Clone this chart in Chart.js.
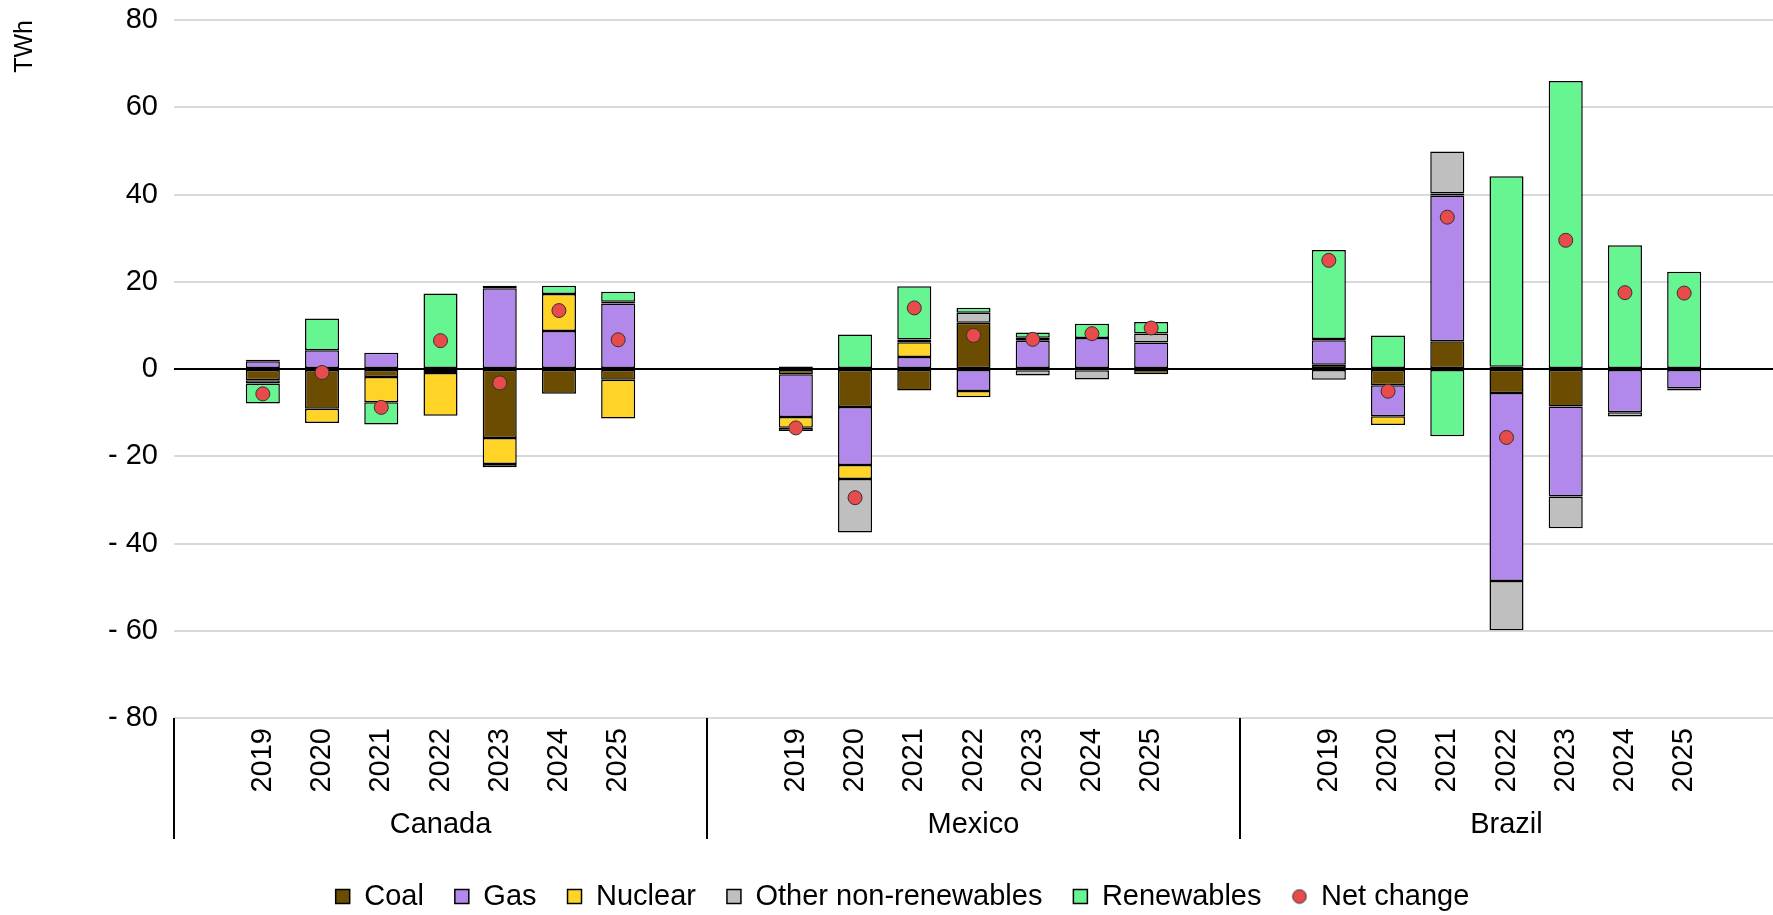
<!DOCTYPE html>
<html>
<head>
<meta charset="utf-8">
<script src="https://cdn.jsdelivr.net/npm/chart.js@4.4.1/dist/chart.umd.min.js"></script>
<style>
  html, body { margin: 0; padding: 0; background: #fff; overflow: hidden; }
  canvas { display: block; }
</style>
</head>
<body>
<canvas id="chart" width="1773" height="915"></canvas>
<script>
// --- data (TWh), per bar: Canada 2019-2025, Mexico 2019-2025, Brazil 2019-2025 ---
const countries = ['Canada', 'Mexico', 'Brazil'];
const years = ['2019', '2020', '2021', '2022', '2023', '2024', '2025'];

const coal = [
  -2.6, -9.1, -1.85, 0, -15.8, -5.7, -2.45,
  -1.2, -8.7, -4.9, 10.6, -0.3, -0.3, -1.2,
  1.0, -3.75, 6.35, -5.5, -8.6, 0, 0
];
const gas = [
  1.8, 4.3, 3.75, -0.9, 18.5, 8.7, 15.0,
  -9.8, -13.3, 2.75, -5.05, 6.45, 7.1, 6.05,
  5.6, -7.1, 33.4, -43.1, -20.6, -9.9, -4.45
];
const nuclear = [
  0.3, -3.3, -5.75, -9.8, -6.0, 8.5, -8.9,
  -2.45, -3.2, 3.4, -1.4, 0.7, 0, 0,
  0.3, -2.0, 0.5, 0.5, 0, 0, 0
];
const otherNonRen = [
  -0.7, 0, 0, 0, -0.7, 0, 0.4,
  -0.75, -12.3, 0.6, 2.3, -1.2, -2.1, 2.1,
  -2.45, 0, 9.6, -11.3, -7.3, -1.0, -0.5
];
const renewables = [
  -4.6, 7.3, -5.1, 17.3, 0.6, 1.9, 2.3,
  0.6, 7.9, 12.2, 1.15, 1.2, 3.3, 2.6,
  20.4, 7.7, -15.4, 43.7, 66.0, 28.35, 22.3
];
const netChange = [
  -5.7, -0.8, -8.8, 6.5, -3.2, 13.4, 6.7,
  -13.5, -29.5, 14.0, 7.7, 6.8, 8.1, 9.4,
  24.9, -5.1, 34.8, -15.7, 29.5, 17.5, 17.4
];

const yTicks = { min: -80, max: 80, step: 20 };

// each country block gets an empty slot before and after its years
function pad(arr) {
  const out = [];
  countries.forEach((c, ci) => {
    out.push(null);
    for (let i = 0; i < years.length; i++) out.push(arr[ci * years.length + i]);
    out.push(null);
  });
  return out;
}

const yearLabels = [];
const groupLabels = [];
countries.forEach(c => {
  yearLabels.push('');
  groupLabels.push('');
  years.forEach((y, i) => {
    yearLabels.push(y);
    groupLabels.push(i === 3 ? c : '');
  });
  yearLabels.push('');
  groupLabels.push('');
});

const FONT = "'Liberation Sans', Arial, sans-serif";
const slot = years.length + 2;

// small dot for the legend entry of the net change series
const dotIcon = document.createElement('canvas');
dotIcon.width = 16; dotIcon.height = 16;
(function () {
  const c = dotIcon.getContext('2d');
  c.beginPath();
  c.arc(8, 8, 6.8, 0, Math.PI * 2);
  c.fillStyle = '#e84b4b';
  c.fill();
  c.lineWidth = 1;
  c.strokeStyle = '#333';
  c.stroke();
})();

function barSet(label, data, color) {
  return {
    type: 'bar',
    label: label,
    data: pad(data),
    backgroundColor: color,
    borderColor: '#000',
    borderWidth: 1.5,
    borderSkipped: false,
    barPercentage: 0.575,
    categoryPercentage: 1,
    order: 1
  };
}

// horizontal axes: no extra side/top margins from the rotated labels
function flatX(height) {
  return s => {
    s.height = height;
    s.paddingLeft = 0; s.paddingRight = 0;
    s.paddingTop = 0; s.paddingBottom = 0;
  };
}

// zero line over the bars + country separators under the axis
const extras = {
  id: 'extras',
  afterLayout(chart) {
    // plot runs to the right edge of the canvas
    const right = chart.width;
    chart.chartArea.right = right;
    chart.chartArea.width = right - chart.chartArea.left;
    ['x', 'x2'].forEach(id => {
      const s = chart.scales[id];
      s.right = right;
      s.width = right - s.left;
      s.configure();
    });
    // nudge the legend block a little right, as in the source
    if (chart.legend) {
      chart.legend.left += 16;
      chart.legend.right += 16;
    }
  },
  beforeDatasetDraw(chart, args) {
    if (args.index !== 5) return;
    const { ctx, chartArea } = chart;
    const y0 = chart.scales.y.getPixelForValue(0);
    ctx.save();
    ctx.strokeStyle = '#000';
    ctx.lineWidth = 2;
    ctx.beginPath();
    ctx.moveTo(chartArea.left, y0);
    ctx.lineTo(chartArea.right, y0);
    ctx.stroke();
    ctx.restore();
  },
  afterDraw(chart) {
    const { ctx, chartArea } = chart;
    const x = chart.scales.x;
    const xs = [chartArea.left];
    for (let g = 1; g < countries.length; g++) {
      const i = g * slot;
      xs.push((x.getPixelForValue(i - 1) + x.getPixelForValue(i)) / 2);
    }
    ctx.save();
    ctx.strokeStyle = '#000';
    ctx.lineWidth = 2;
    xs.forEach(px => {
      const p = Math.round(px);
      ctx.beginPath();
      ctx.moveTo(p, chartArea.bottom);
      ctx.lineTo(p, 839);
      ctx.stroke();
    });
    ctx.restore();
  }
};

new Chart(document.getElementById('chart'), {
  data: {
    labels: yearLabels,
    datasets: [
      barSet('Coal', coal, '#6b4c00'),
      barSet('Gas', gas, '#b388eb'),
      barSet('Nuclear', nuclear, '#ffd426'),
      barSet('Other non-renewables', otherNonRen, '#bfbfbf'),
      barSet('Renewables', renewables, '#66f591'),
      {
        type: 'line',
        label: 'Net change',
        data: pad(netChange),
        showLine: false,
        stack: 'net',
        pointStyle: 'circle',
        pointRadius: 7,
        pointHoverRadius: 7,
        backgroundColor: '#e84b4b',
        borderColor: '#333',
        pointBorderWidth: 1,
        order: 0
      }
    ]
  },
  options: {
    responsive: false,
    animation: false,
    layout: { padding: { top: 20, right: 0, left: 0, bottom: -6 } },
    plugins: {
      tooltip: { enabled: false },
      legend: {
        position: 'bottom',
        labels: {
          font: { family: FONT, size: 29 },
          color: '#000',
          usePointStyle: true,
          boxWidth: 14,
          boxHeight: 14,
          padding: 31,
          sort: (a, b) => a.datasetIndex - b.datasetIndex,
          generateLabels(chart) {
            const items = Chart.defaults.plugins.legend.labels.generateLabels(chart);
            items.forEach(it => {
              it.pointStyle = it.datasetIndex === 5 ? dotIcon : 'rect';
              it.strokeStyle = '#000';
              it.lineWidth = 1.5;
            });
            return items;
          }
        }
      }
    },
    scales: {
      x: {
        type: 'category',
        stacked: true,
        offset: true,
        weight: 0,
        grid: { display: false },
        border: { display: false },
        ticks: {
          autoSkip: false,
          minRotation: 90,
          maxRotation: 90,
          padding: 2,
          color: '#000',
          font: { family: FONT, size: 29 }
        },
        afterFit: flatX(76)
      },
      x2: {
        type: 'category',
        labels: groupLabels,
        position: 'bottom',
        offset: true,
        weight: 1,
        grid: { display: false },
        border: { display: false },
        ticks: {
          autoSkip: false,
          maxRotation: 0,
          minRotation: 0,
          padding: 6,
          color: '#000',
          font: { family: FONT, size: 29 }
        },
        afterFit: flatX(57)
      },
      y: {
        stacked: true,
        min: yTicks.min,
        max: yTicks.max,
        border: { display: false },
        grid: {
          drawTicks: false,
          color: c => (c.tick && c.tick.value === 0) ? 'rgba(0,0,0,0)' : '#d9d9d9',
          lineWidth: 2
        },
        ticks: {
          stepSize: yTicks.step,
          padding: 16,
          color: '#000',
          font: { family: FONT, size: 29 },
          callback: v => v < 0 ? '- ' + Math.abs(v) : String(v)
        },
        title: {
          display: true,
          text: 'TWh',
          align: 'end',
          color: '#000',
          font: { family: FONT, size: 25 },
          padding: { top: 10, bottom: 0 }
        },
        afterFit(s) {
          s.width = 174;
          s.paddingTop = 0;
          s.paddingBottom = 0;
        }
      }
    }
  },
  plugins: [extras]
});
</script>
</body>
</html>
